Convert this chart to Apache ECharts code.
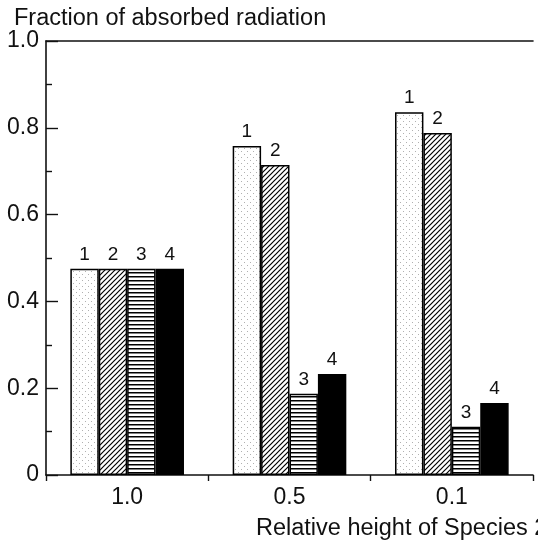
<!DOCTYPE html>
<html>
<head>
<meta charset="utf-8">
<script src="https://cdn.jsdelivr.net/npm/echarts@6/dist/echarts.min.js"></script>
<style>html,body{margin:0;padding:0;background:#fff}#c{width:538px;height:541px}</style>
</head>
<body>
<div id="c"></div>
<script>
const categories = ['1.0', '0.5', '0.1'];
const seriesNames = ['1', '2', '3', '4'];
const series1 = [0.475, 0.758, 0.836];
const series2 = [0.475, 0.714, 0.788];
const series3 = [0.475, 0.187, 0.111];
const series4 = [0.475, 0.233, 0.166];
const yTicks = [0, 0.2, 0.4, 0.6, 0.8, 1.0];
const titleText = 'Fraction of absorbed radiation';
const xName = 'Relative height of Species 2';

function tile(w, h, draw) {
  const c = document.createElement('canvas');
  c.width = w; c.height = h;
  const ctx = c.getContext('2d');
  ctx.fillStyle = '#fff'; ctx.fillRect(0, 0, w, h);
  draw(ctx);
  return { image: c, repeat: 'repeat' };
}
const dots = tile(6, 6, ctx => {
  ctx.fillStyle = '#b0b0b0';
  ctx.fillRect(1, 1, 1, 1);
  ctx.fillRect(4, 4, 1, 1);
});
const diag = tile(5, 5, ctx => {
  ctx.strokeStyle = '#000'; ctx.lineWidth = 1.2;
  ctx.beginPath();
  ctx.moveTo(-1, 6); ctx.lineTo(6, -1);
  ctx.moveTo(-1, 1); ctx.lineTo(1, -1);
  ctx.moveTo(4, 6); ctx.lineTo(6, 4);
  ctx.stroke();
});
const horiz = tile(4, 4, ctx => {
  ctx.fillStyle = '#000';
  ctx.fillRect(0, 0, 4, 1.5);
});
const fills = [dots, diag, horiz, '#000'];
const values = [series1, series2, series3, series4];

const font = 'Liberation Sans, Arial, Helvetica, sans-serif';
const chart = echarts.init(document.getElementById('c'), null, { renderer: 'canvas' });
chart.setOption({
  animation: false,
  backgroundColor: '#fff',
  title: [
    { text: titleText, left: 9, top: 2, textStyle: { fontFamily: font, fontSize: 23.5, fontWeight: 'normal', color: '#111' } },
    { text: xName, left: 251, top: 512, textStyle: { fontFamily: font, fontSize: 23.5, fontWeight: 'normal', color: '#111' } }
  ],
  grid: { left: 46, right: 5, top: 41, bottom: 66 },
  xAxis: [
    {
      type: 'category', data: categories, position: 'bottom',
      axisLine: { lineStyle: { color: '#111', width: 1.6 } },
      axisTick: { show: true, length: 6, lineStyle: { color: '#111', width: 1.4 } },
      axisLabel: { margin: 11, fontFamily: font, fontSize: 23, color: '#111' }
    },
    {
      type: 'category', data: categories, position: 'top',
      axisLine: { lineStyle: { color: '#111', width: 1.6 } },
      axisTick: { show: false }, axisLabel: { show: false }
    }
  ],
  yAxis: {
    type: 'value', min: yTicks[0], max: yTicks[yTicks.length - 1], interval: 0.2,
    axisLine: { show: true, lineStyle: { color: '#111', width: 1.6 } },
    axisTick: { show: true, inside: true, length: 12, lineStyle: { color: '#111', width: 1.4 } },
    minorTick: { show: true, splitNumber: 2, length: 6, lineStyle: { color: '#111', width: 1.4 } },
    splitLine: { show: false },
    axisLabel: {
      margin: 7, fontFamily: font, fontSize: 23, color: '#111',
      formatter: v => (v === 0 ? '0' : v.toFixed(1))
    }
  },
  series: seriesNames.map((n, i) => ({
    name: n, type: 'bar', data: values[i],
    barGap: '0%', barCategoryGap: '30%',
    itemStyle: { color: fills[i], borderColor: '#000', borderWidth: 1.5 },
    label: { show: true, position: 'top', distance: 5, formatter: '{a}', fontFamily: font, fontSize: 19, color: '#111' }
  }))
});
</script>
</body>
</html>
